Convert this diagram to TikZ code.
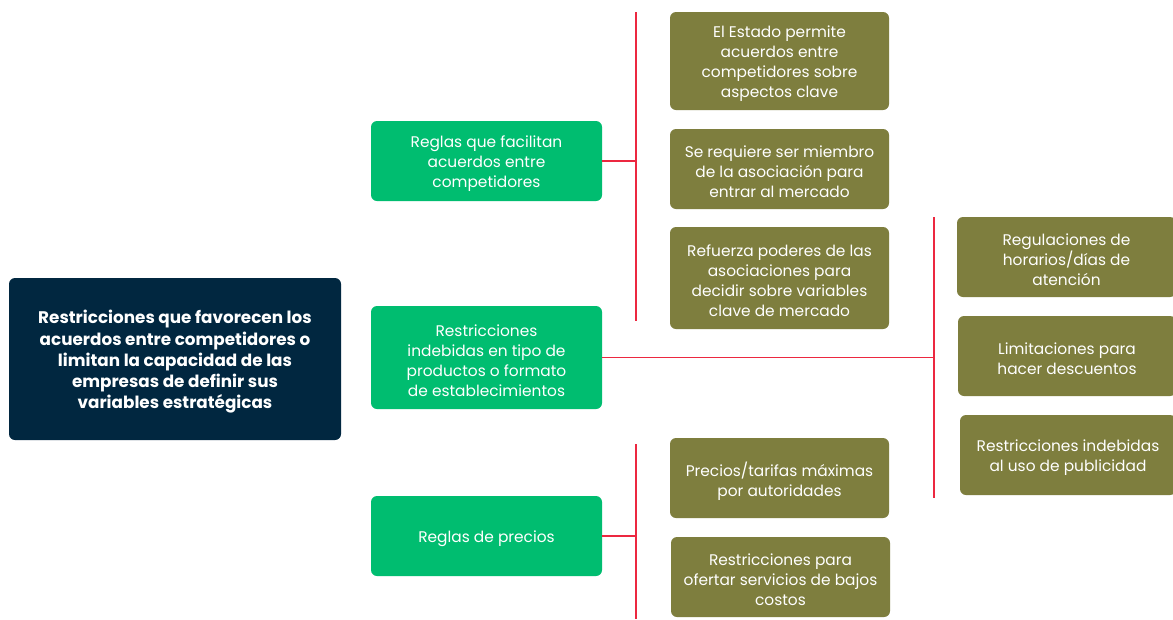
\documentclass[tikz,border=0pt]{standalone}
\usepackage{fontspec}
\setmainfont{Poppins}
\definecolor{navy}{HTML}{012740}
\definecolor{mint}{HTML}{00BD70}
\definecolor{olivebox}{HTML}{7E7E3E}
\definecolor{redline}{HTML}{EC2840}
\tikzset{
  box/.style={rounded corners=6pt, inner sep=0pt},
  txt/.style={align=center, text=white, inner sep=0pt, yshift=-2.8pt,
    font=\fontsize{15.4}{20}\selectfont},
  btxt/.style={txt, font=\bfseries\fontsize{16.8}{21.2}\selectfont},
  mainbox/.style={box, fill=navy},
  greenbox/.style={box, fill=mint},
  olbox/.style={box, fill=olivebox},
  link/.style={draw=redline, line width=1.4pt}
}
\begin{document}
\begin{tikzpicture}[x=1pt,y=-1pt]
\useasboundingbox (0,0) rectangle (1173,619);
\fill[white] (0,0) rectangle (1173,619);
% main
\node[mainbox, minimum width=332pt, minimum height=162pt,
  label={[btxt]center:{Restricciones que favorecen los\\acuerdos entre competidores o\\limitan la capacidad de las\\empresas de definir sus\\variables estratégicas}}] (main) at (175,359) {};
% green
\node[greenbox, minimum width=231pt, minimum height=80pt,
  label={[txt]center:{Reglas que facilitan\\acuerdos entre\\competidores}}] (g1) at (486.5,161) {};
\node[greenbox, minimum width=231pt, minimum height=103pt,
  label={[txt]center:{Restricciones\\indebidas en tipo de\\productos o formato\\de establecimientos}}] (g2) at (486.5,357.5) {};
\node[greenbox, minimum width=231pt, minimum height=80pt,
  label={[txt]center:{Reglas de precios}}] (g3) at (486.5,536) {};
% olive
\node[olbox, minimum width=219pt, minimum height=98pt,
  label={[txt]center:{El Estado permite\\acuerdos entre\\competidores sobre\\aspectos clave}}] (o1) at (779.5,61) {};
\node[olbox, minimum width=219pt, minimum height=80pt,
  label={[txt]center:{Se requiere ser miembro\\de la asociación para\\entrar al mercado}}] (o2) at (779.5,169) {};
\node[olbox, minimum width=219pt, minimum height=102pt,
  label={[txt]center:{Refuerza poderes de las\\asociaciones para\\decidir sobre variables\\clave de mercado}}] (o3) at (779.5,278) {};
\node[olbox, minimum width=219pt, minimum height=80pt,
  label={[txt]center:{Regulaciones de\\horarios/días de\\atención}}] (o4) at (1066.5,257) {};
\node[olbox, minimum width=218pt, minimum height=80pt,
  label={[txt]center:{Limitaciones para\\hacer descuentos}}] (o5) at (1067,356) {};
\node[olbox, minimum width=216pt, minimum height=80pt,
  label={[txt]center:{Restricciones indebidas\\al uso de publicidad}}] (o6) at (1068,455) {};
\node[olbox, minimum width=219pt, minimum height=80pt,
  label={[txt]center:{Precios/tarifas máximas\\por autoridades}}] (o7) at (779.5,478) {};
\node[olbox, minimum width=219pt, minimum height=80pt,
  label={[txt]center:{Restricciones para\\ofertar servicios de bajos\\costos}}] (o8) at (780.5,577) {};
% connectors
\coordinate (b1t) at (636,12);
\coordinate (b1b) at (636,321);
\coordinate (b1m) at (636,161);
\draw[link] (g1.east) -- (b1m);
\draw[link] (b1t) -- (b1b);
\coordinate (b2t) at (934,217);
\coordinate (b2b) at (934,498);
\coordinate (b2m) at (934,357.5);
\draw[link] (g2.east) -- (b2m);
\draw[link] (b2t) -- (b2b);
\coordinate (b3t) at (636,444);
\coordinate (b3b) at (636,619);
\coordinate (b3m) at (636,536);
\draw[link] (g3.east) -- (b3m);
\draw[link] (b3t) -- (b3b);
\end{tikzpicture}
\end{document}
